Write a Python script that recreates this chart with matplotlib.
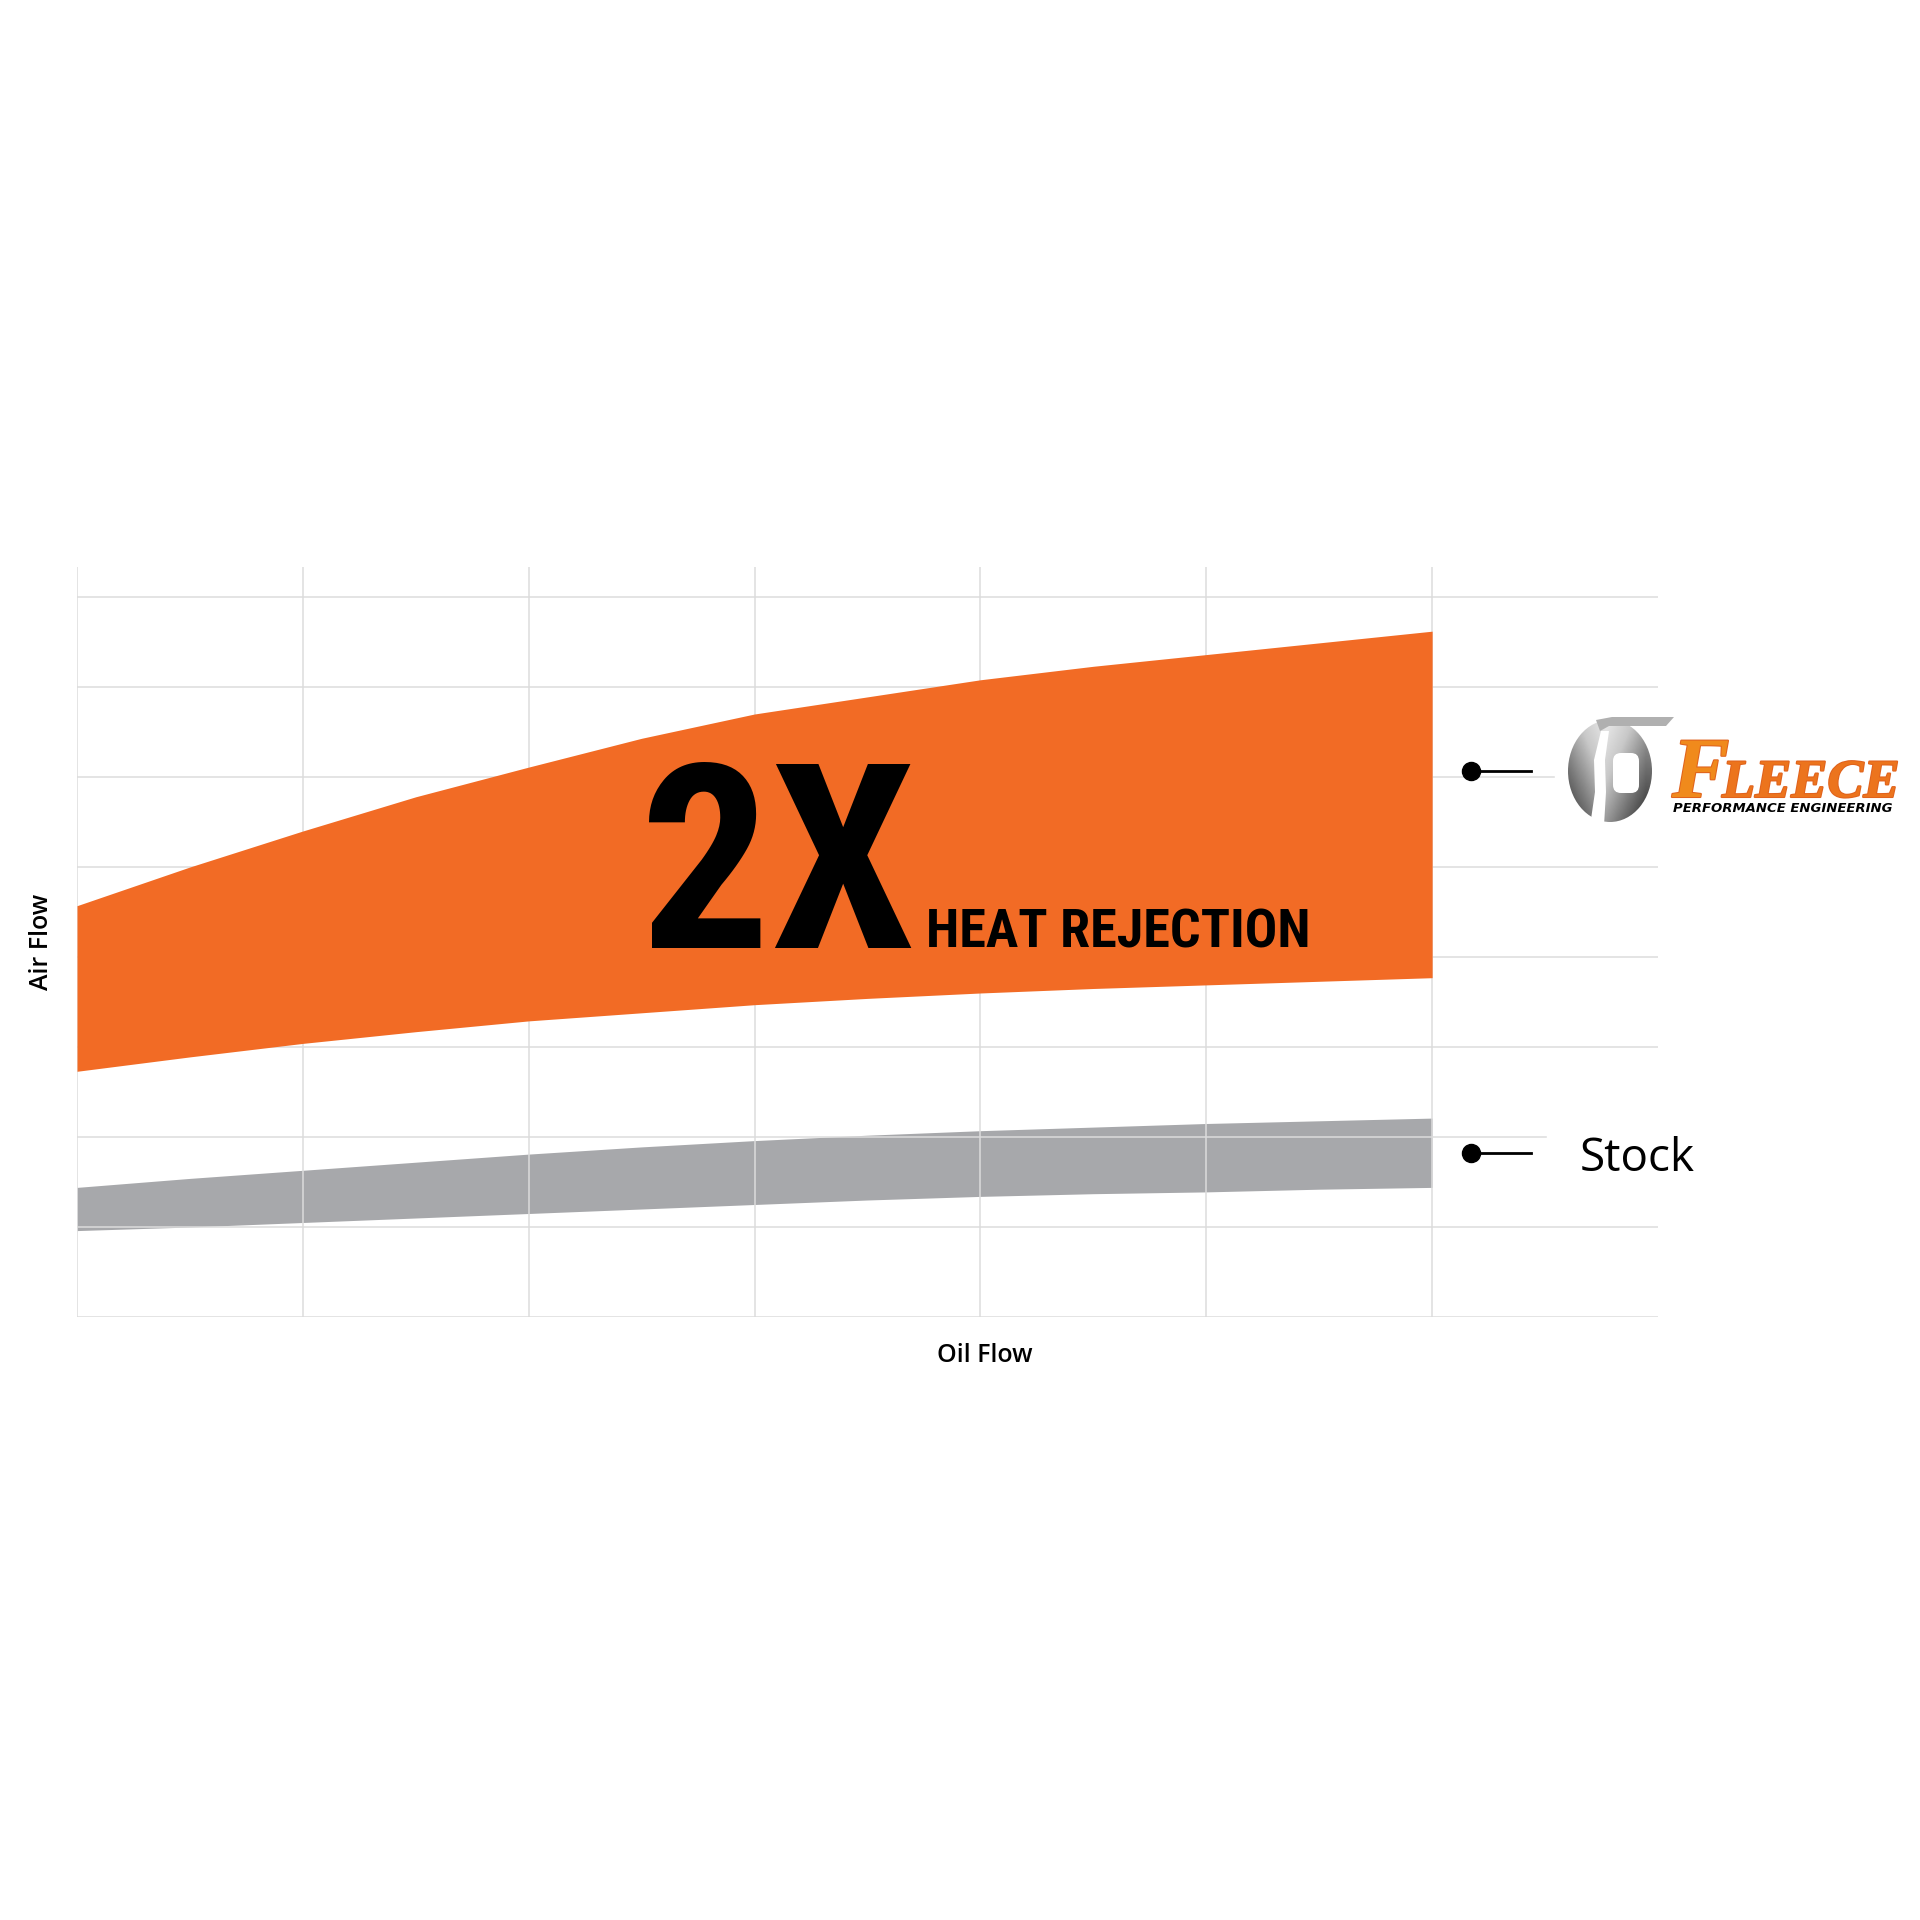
import numpy as np
import matplotlib.pyplot as plt
import matplotlib.patheffects as pe
from matplotlib.patches import Ellipse, Polygon, FancyBboxPatch, Rectangle
from matplotlib.lines import Line2D
from matplotlib.colors import LinearSegmentedColormap

# oil flow positions (half grid columns)
oil_flow = [0, 0.5, 1, 1.5, 2, 2.5, 3, 3.5, 4, 4.5, 5, 5.5, 6]

# Fleece cooler air flow band
fleece_upper = [4.57, 5.00, 5.40, 5.78, 6.11, 6.43, 6.70, 6.89, 7.08, 7.23, 7.36, 7.49, 7.62]
fleece_lower = [2.73, 2.89, 3.04, 3.17, 3.29, 3.38, 3.47, 3.54, 3.60, 3.65, 3.69, 3.73, 3.77]

# stock cooler air flow band
stock_upper = [1.44, 1.54, 1.63, 1.72, 1.81, 1.89, 1.96, 2.02, 2.07, 2.11, 2.15, 2.18, 2.21]
stock_lower = [0.96, 1.00, 1.05, 1.10, 1.15, 1.20, 1.25, 1.30, 1.34, 1.37, 1.39, 1.42, 1.44]

ORANGE = '#f26b25'
GRAY = '#a7a8ab'
W = 1920.0


def fx(px):
    return px / W


def fy(py):
    return 1 - py / W


fig = plt.figure(figsize=(19.2, 19.2), dpi=100)
fig.patch.set_facecolor('white')

# main plot area
ax = fig.add_axes([fx(77), fy(1317), (1658 - 77) / W, (1317 - 567) / W])
ax.set_xlim(0, 7)
ax.set_ylim(0, 8.333)
ax.set_xticks(range(7))
ax.set_yticks(range(9))
ax.grid(True, color='#dcdcdc', lw=1.1)
ax.tick_params(length=0, labelbottom=False, labelleft=False)
for s in ax.spines.values():
    s.set_visible(False)

ax.fill_between(oil_flow, stock_lower, stock_upper, color=GRAY, lw=0, zorder=1)
ax.fill_between(oil_flow, fleece_lower, fleece_upper, color=ORANGE, lw=0, zorder=2)

# headline text
narrow = ['Roboto Condensed', 'Open Sans Condensed', 'Liberation Sans Narrow',
          'DejaVu Sans Condensed', 'Open Sans']
fig.text(fx(640), fy(948), '2X', fontsize=186, fontweight='bold', fontstretch='condensed',
         family=narrow, color='black', ha='left', va='baseline', zorder=5)
fig.text(fx(926), fy(948), 'HEAT REJECTION', fontsize=39, fontweight='bold',
         fontstretch='condensed', family=narrow, color='black',
         ha='left', va='baseline', zorder=5)

# axis labels
fig.text(fx(985), fy(1362), 'Oil Flow', fontsize=18, fontweight='semibold',
         family=['Open Sans', 'DejaVu Sans'], ha='center', va='baseline')
fig.text(fx(41), fy(942), 'Air Flow', fontsize=18, fontweight='semibold',
         family=['Open Sans', 'DejaVu Sans'], ha='center', va='center', rotation=90)

# white covers behind the labels on the right
fig.add_artist(Rectangle((fx(1547), fy(1190)), 200 / W, 70 / W,
                         transform=fig.transFigure, color='white', zorder=1))
fig.add_artist(Rectangle((fx(1555), fy(830)), 365 / W, 115 / W,
                         transform=fig.transFigure, color='white', zorder=1))

# legend pointers
for py in (771, 1153):
    fig.add_artist(Line2D([fx(1471), fx(1531)], [fy(py), fy(py)],
                          color='black', lw=2, zorder=3))
    fig.add_artist(Line2D([fx(1471)], [fy(py)], marker='o', ms=13,
                          color='black', zorder=3))

fig.text(fx(1580), fy(1171), 'Stock', fontsize=33,
         family=['Open Sans', 'DejaVu Sans'], ha='left', va='baseline', zorder=5)

# Fleece logo: swoosh icon
lax = fig.add_axes([fx(1555), fy(830), 130 / W, 115 / W])
lax.set_zorder(3)
lax.set_xlim(1555, 1685)
lax.set_ylim(830, 715)
lax.axis('off')
grey_map = LinearSegmentedColormap.from_list('g', ['#2e2e2e', '#7a7a7a', '#c8c8c8', '#ececec'])
gx, gy = np.meshgrid(np.linspace(0, 1, 80), np.linspace(0, 1, 80))
shade = 0.55 * (1 - gy) + 0.45 * np.clip(1 - np.abs(gx - 0.45) * 2.2, 0, 1)
ell = Ellipse((1610, 771), 84, 102, facecolor='none', edgecolor='none')
lax.add_patch(ell)
img = lax.imshow(shade, cmap=grey_map, extent=(1566, 1654, 824, 716),
                 aspect='auto', zorder=1)
img.set_clip_path(ell)
lax.add_patch(Polygon([(1601, 731), (1609, 731), (1605, 760), (1606, 792), (1604, 826),
                       (1590, 826), (1595, 792), (1594, 760)],
                      closed=True, facecolor='white', edgecolor='none', zorder=2))
lax.add_patch(FancyBboxPatch((1613, 753), 26, 40, boxstyle='round,pad=0,rounding_size=8',
                             facecolor='white', edgecolor='none', zorder=2))
lax.add_patch(Polygon([(1596, 720), (1612, 717), (1674, 717), (1666, 726), (1609, 726),
                       (1600, 731)],
                      closed=True, facecolor='#b0b0b0', edgecolor='none', zorder=3))

# Fleece logo: wordmark
serif = ['Liberation Serif', 'DejaVu Serif']
bold_fx = [pe.withStroke(linewidth=1.5, foreground='#e0621c')]
fig.text(fx(1672), fy(797), 'F', fontsize=62, fontweight='bold', style='italic',
         family=serif, color='#f08a1c', ha='left', va='baseline', zorder=5,
         path_effects=bold_fx)
fig.text(fx(1722), fy(797), 'LEECE', fontsize=39, fontweight='bold', style='italic',
         family=serif, color='#ec741d', ha='left', va='baseline', zorder=5,
         path_effects=bold_fx)
fig.text(fx(1673), fy(812), 'PERFORMANCE ENGINEERING', fontsize=9.5, fontweight='bold',
         style='italic', family='DejaVu Sans', color='black', ha='left', va='baseline', zorder=5)

fig.savefig('out.png', dpi=100, facecolor='white')
